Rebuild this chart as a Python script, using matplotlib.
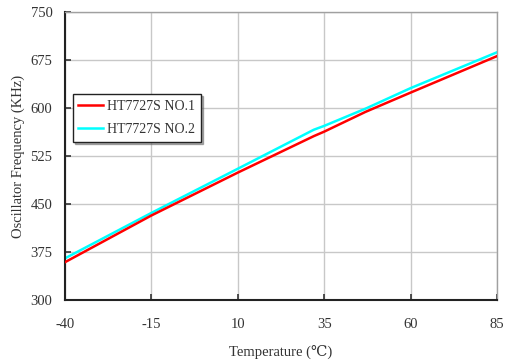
import matplotlib
matplotlib.use('Agg')
import matplotlib.pyplot as plt

plt.rcParams['font.family'] = ['Liberation Serif', 'DejaVu Serif', 'DejaVu Sans']
plt.rcParams['axes.unicode_minus'] = False

# temperature (C) and oscillator frequency (KHz)
temp = [-40, -15, 10, 32, 35, 47, 60, 85]
freq_no1 = [359, 432, 499, 556, 563, 594, 624, 681]
freq_no2 = [365, 436, 505, 566, 572, 599, 631, 687]

xticks = [-40, -15, 10, 35, 60, 85]
yticks = [300, 375, 450, 525, 600, 675, 750]

fig = plt.figure(figsize=(5.05, 3.64), dpi=100)
ax = fig.add_axes([0.1287, 0.176, 0.8553, 0.791])

ax.plot(temp, freq_no1, color='#ff0000', lw=1.8, label='HT7727S NO.1', zorder=3)
ax.plot(temp, freq_no2, color='#00ffff', lw=1.8, label='HT7727S NO.2', zorder=2)

ax.set_xlim(-40, 85)
ax.set_ylim(300, 750)
ax.set_xticks(xticks)
ax.set_yticks(yticks)
ax.grid(True, color='#c8c8c8', lw=1)
ax.tick_params(direction='in', length=4, width=1.2, labelsize=10.5, colors='#333333')
ax.tick_params(axis='x', pad=13)
ax.tick_params(axis='y', pad=9)

for s in ['left', 'bottom']:
    ax.spines[s].set_color('#222222')
    ax.spines[s].set_linewidth(1.5)
for s in ['top', 'right']:
    ax.spines[s].set_color('#a0a0a0')
    ax.spines[s].set_linewidth(1)

ax.set_xlabel('Temperature (℃)', fontsize=10.5, color='#333333', labelpad=10)
ax.set_ylabel('Oscillator Frequency (KHz)', fontsize=10.5, color='#333333', labelpad=4)

leg = ax.legend(loc='upper left', bbox_to_anchor=(0.018, 0.714), borderaxespad=0,
                fontsize=10, fancybox=False, framealpha=1,
                shadow={'ox': 1.5, 'oy': -1.5, 'color': '#606060'},
                borderpad=0.4, handlelength=1.8, handletextpad=0.3,
                labelspacing=0.75)
leg.get_frame().set_edgecolor('#222222')
leg.get_frame().set_linewidth(1)
for t in leg.get_texts():
    t.set_color('#333333')

fig.savefig('out.png', dpi=100)
